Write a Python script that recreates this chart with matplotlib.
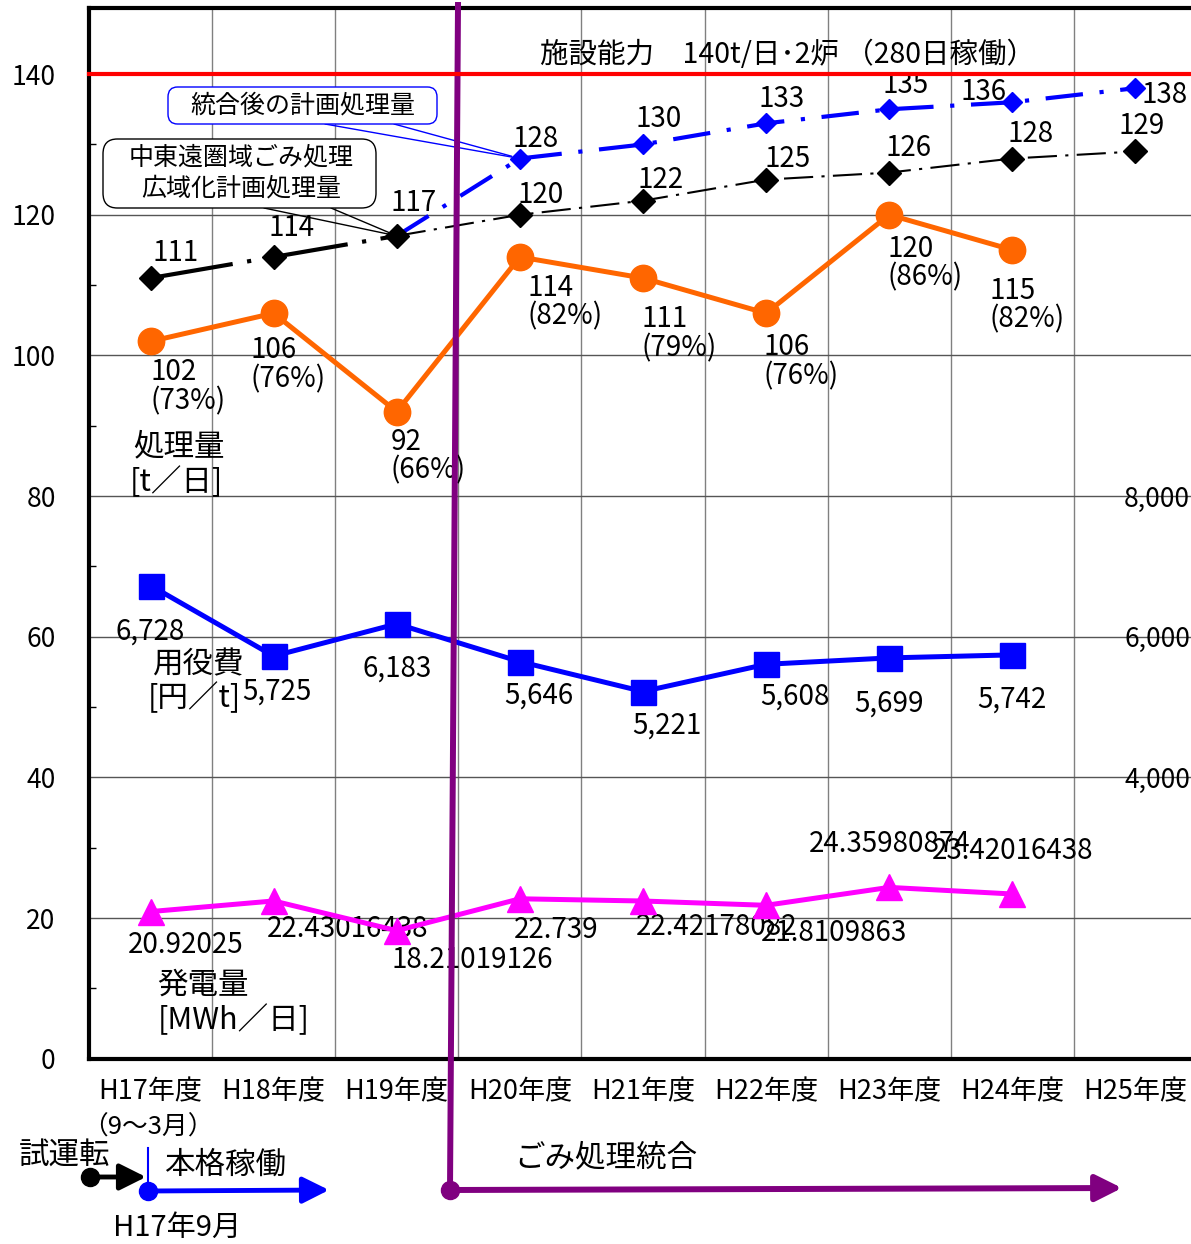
import numpy as np
import matplotlib.pyplot as plt
import matplotlib.transforms as mtransforms
from matplotlib.lines import Line2D
from matplotlib.patches import FancyBboxPatch, FancyArrowPatch

plt.rcParams['font.family'] = ['Noto Sans CJK JP', 'DejaVu Sans']

# ---- data ----
years = ["H17年度", "H18年度", "H19年度", "H20年度", "H21年度",
         "H22年度", "H23年度", "H24年度", "H25年度"]
processed = [102, 106, 92, 114, 111, 106, 120, 115]          # 処理量 t/日
processed_pct = [73, 76, 66, 82, 79, 76, 86, 82]
plan_area = [111, 114, 117, 120, 122, 125, 126, 128, 129]      # 中東遠圏域 計画
plan_merged = [117, 128, 130, 133, 135, 136, 138]              # 統合後 (H19-)
utility_cost = [6728, 5725, 6183, 5646, 5221, 5608, 5699, 5742]  # 円/t
power = [20.92025, 22.43016438, 18.21019126, 22.739, 22.42178082,
         21.8109863, 24.35980874, 23.42016438]                 # MWh/日
capacity = 140

# label offsets (pixels)
area_off = [(25, 25), (18, 29), (17, 33), (21, 20), (18, 21), (21, 21), (19, 25), (18, 25), (6, 25)]
merged_off = [(16, 20), (16, 25), (15, 24), (16, 24), (-29, 10), (29, -7)]
proc_off = [(0, -16), (-23, -22), (-6, -15), (8, -16), (-2, -26), (-3, -19), (-2, -19), (-23, -26)]
cost_off = [(0, -46), (3, -36), (0, -45), (19, -34), (24, -34), (29, -32), (0, -46), (0, -45)]
power_off = [(35, -33), (74, -28), (76, -29), (36, -31), (74, -26), (68, -28), (0, 43), (0, 43)]

NUM = 20   # digits size
JP = 22    # japanese labels

W, H = 1191, 1244
fig = plt.figure(figsize=(W / 100, H / 100), dpi=100)


def fp(x, y):
    # pixel (from top-left) -> figure fraction
    return (x / W, 1 - y / H)


ax = fig.add_axes([89 / W, 1 - 1058.7 / H, (1197 - 89) / W, (1058.7 - 8) / H])
x = np.arange(len(years))
ax.set_xlim(-0.5, 8.5)
ax.set_ylim(0, 149.4)

ax.set_xticks(x)
ax.set_xticklabels(years, fontsize=19.5)
ax.set_xticks(np.arange(0.5, 8.5, 1), minor=True)
ax.set_yticks(range(0, 141, 20))
ax.set_yticks(range(10, 140, 20), minor=True)
ax.tick_params(axis='x', which='both', length=0, pad=14)
ax.tick_params(axis='y', which='major', length=0, pad=24, labelsize=19)
ax.tick_params(axis='y', which='minor', direction='in', length=5, width=1)
ax.grid(axis='x', which='minor', color='#808080', lw=1)
ax.grid(axis='y', which='major', color='#555555', lw=1)
ax.set_axisbelow(True)
for s in ['left', 'top', 'bottom']:
    ax.spines[s].set_linewidth(3)
ax.spines['right'].set_visible(False)

# plan lines
ax.plot(x[:3], plan_area[:3], color='black', lw=3, ls=(0, (20, 3.5, 1, 3.5)), zorder=4)
ax.plot(x[2:], plan_area[2:], color='black', lw=1.5, ls=(0, (14, 4, 1.5, 4)), zorder=4)
ax.plot(x[2:], plan_merged, color='blue', lw=3, ls=(0, (9, 4, 1, 4)), zorder=4)
ax.plot(x[3:], plan_merged[1:], ls='none', marker='D', ms=10.5, color='blue', zorder=5)
ax.plot(x, plan_area, ls='none', marker='D', ms=12.5, color='black', zorder=5)

# actual processed
ax.plot(x[:8], processed, color='#FF6600', lw=3.6, marker='o', ms=19, zorder=5)
# power generation
ax.plot(x[:8], power, color='#FF00FF', lw=3.6, marker='^', ms=19, zorder=5)

for i, v in enumerate(plan_area):
    ax.annotate(str(v), (i, v), xytext=area_off[i], textcoords='offset pixels',
                ha='center', va='center', fontsize=NUM)
for i, v in enumerate(plan_merged[1:]):
    ax.annotate(str(v), (i + 3, v), xytext=merged_off[i], textcoords='offset pixels',
                ha='center', va='center', fontsize=NUM)
for i, v in enumerate(processed):
    ax.annotate(f"{v}\n({processed_pct[i]}%)", (i, v), xytext=proc_off[i],
                textcoords='offset pixels', ha='left', va='top', fontsize=NUM,
                linespacing=0.95)
for i, v in enumerate(power):
    ax.annotate(str(v), (i, v), xytext=power_off[i], textcoords='offset pixels',
                ha='center', va='center', fontsize=NUM)

# utility cost on secondary axis
ax2 = ax.twinx()
ax2.set_ylim(0, 14940)
ax2.set_yticks([4000, 6000, 8000])
ax2.set_yticklabels(['4,000', '6,000', '8,000'])
ax2.tick_params(axis='y', length=0, pad=-5, labelsize=19)
for lab in ax2.get_yticklabels():
    lab.set_horizontalalignment('right')
for s in ax2.spines.values():
    s.set_visible(False)
ax2.plot(x[:8], utility_cost, color='#0000FF', lw=3.6, marker='s', ms=18, zorder=5)
for i, v in enumerate(utility_cost):
    ax2.annotate(f"{v:,}", (i, v), xytext=cost_off[i], textcoords='offset pixels',
                 ha='center', va='center', fontsize=NUM)

# capacity line and merge line (over everything)
blend = mtransforms.blended_transform_factory(ax.transAxes, ax.transData)
fig.add_artist(Line2D([0, 1], [capacity, capacity], transform=blend,
                      color='red', lw=3, zorder=3))
p0, p1 = fp(458, 5), fp(450, 1190)
fig.add_artist(Line2D([p0[0], p1[0]], [p0[1], p1[1]], transform=fig.transFigure,
                      color='#800080', lw=4.3, zorder=2.5))

fig.text(*fp(788, 55), "施設能力　140t/日･2炉 （280日稼働）", fontsize=20.5,
         ha='center', va='center')

# series names
for tx, ty, s in [(133, 447, "処理量"), (130, 482, "[t／日]"),
                  (152, 665, "用役費"), (148, 698, "[円／t]"),
                  (157, 985, "発電量"), (158, 1020, "[MWh／日]")]:
    fig.text(*fp(tx, ty), s, fontsize=JP, ha='left', va='center')

# callout boxes
b1 = FancyBboxPatch(fp(168, 124), 269 / W, 37 / H, boxstyle='round,pad=0,rounding_size=0.008',
                    transform=fig.transFigure, fc='white', ec='blue', lw=1, zorder=3)
b2 = FancyBboxPatch(fp(103, 208), 273 / W, 69 / H, boxstyle='round,pad=0,rounding_size=0.012',
                    transform=fig.transFigure, fc='white', ec='black', lw=1, zorder=3)
fig.add_artist(b1)
fig.add_artist(b2)
fig.text(*fp(303, 105), "統合後の計画処理量", fontsize=18, ha='center', va='center', zorder=4)
fig.text(*fp(241, 157), "中東遠圏域ごみ処理", fontsize=18, ha='center', va='center', zorder=4)
fig.text(*fp(241, 188), "広域化計画処理量", fontsize=18, ha='center', va='center', zorder=4)
for sx in [325, 394]:
    ax.annotate('', xy=(3, plan_merged[1]), xycoords='data', xytext=fp(sx, 124),
                textcoords='figure fraction',
                arrowprops=dict(arrowstyle='-', color='blue', lw=1, shrinkA=0, shrinkB=6))
for sx in [264, 331]:
    ax.annotate('', xy=(2, plan_area[2]), xycoords='data', xytext=fp(sx, 208),
                textcoords='figure fraction',
                arrowprops=dict(arrowstyle='-', color='black', lw=1, shrinkA=0, shrinkB=6))

# timeline below
fig.text(*fp(148, 1128), "（9～3月）", fontsize=18.5, ha='center', va='center')
fig.text(*fp(65, 1155), "試運転", fontsize=JP, ha='center', va='center')
fig.text(*fp(225, 1165), "本格稼働", fontsize=JP, ha='center', va='center')
fig.text(*fp(177, 1228), "H17年9月", fontsize=21, ha='center', va='center')
fig.text(*fp(606, 1158), "ごみ処理統合", fontsize=JP, ha='center', va='center')

for (xa, ya), (xb, yb), col, lw in [((90, 1177), (146, 1177), 'black', 3.5),
                                    ((148, 1191), (329, 1190), 'blue', 3.5),
                                    ((450, 1190), (1122, 1188), '#800080', 4.3)]:
    fig.add_artist(FancyArrowPatch(fp(xa, ya), fp(xb, yb), transform=fig.transFigure,
                                   arrowstyle='-|>,head_length=16,head_width=8',
                                   mutation_scale=1, color=col, lw=lw,
                                   shrinkA=0, shrinkB=0, zorder=3))
    pa = fp(xa, ya)
    fig.add_artist(Line2D([pa[0]], [pa[1]], transform=fig.transFigure, marker='o',
                          ms=13, color=col, zorder=4))
v0, v1 = fp(148, 1148), fp(148, 1182)
fig.add_artist(Line2D([v0[0], v1[0]], [v0[1], v1[1]], transform=fig.transFigure,
                      color='blue', lw=1.5))

fig.savefig('out.png', dpi=100)
